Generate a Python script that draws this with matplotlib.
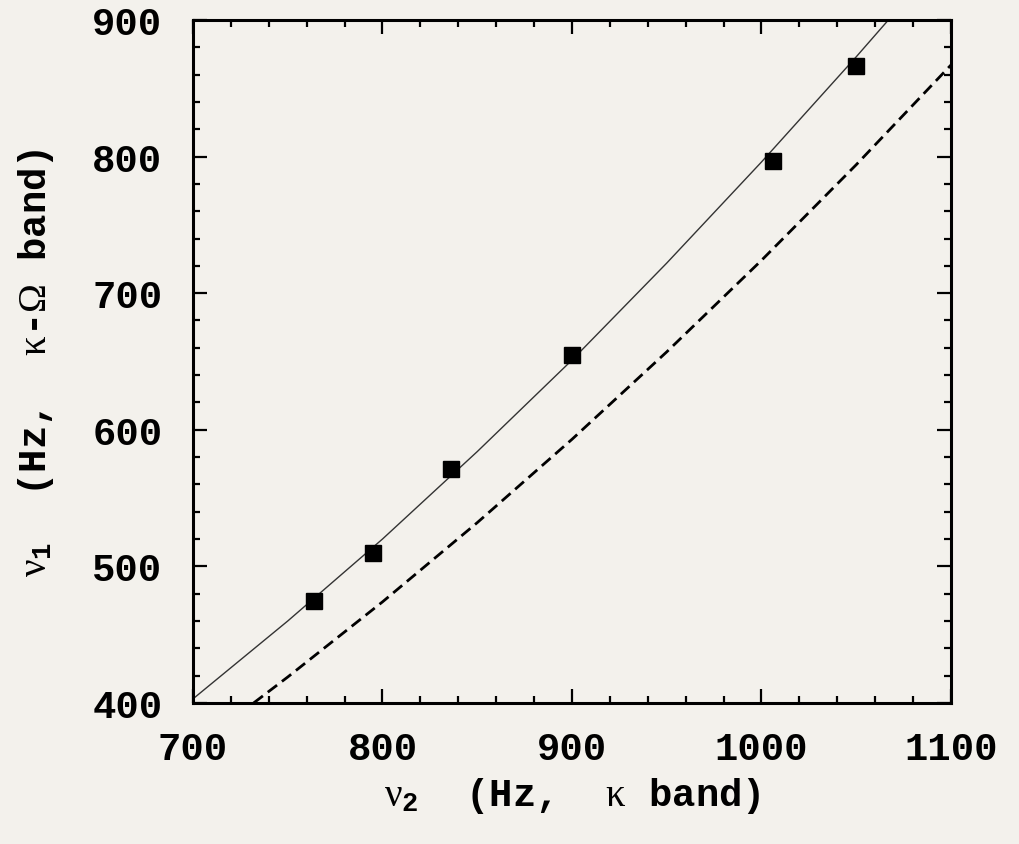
import matplotlib as mpl
mpl.use('Agg')
import numpy as np
import matplotlib.pyplot as plt
from matplotlib.ticker import MultipleLocator

# measured QPO pairs
nu2_obs = [764, 795, 836, 900, 1006, 1050]
nu1_obs = [475, 510, 571, 655, 797, 866]

# model curves
nu2_model = [700, 750, 800, 850, 900, 950, 1000, 1050, 1067]
nu1_model = [403, 460, 520, 584, 651, 722, 796, 873, 900]

nu2_alt = [732, 750, 800, 850, 900, 950, 1000, 1050, 1100]
nu1_alt = [400, 419, 474, 532, 593, 657, 724, 794, 867]

xticks = [700, 800, 900, 1000, 1100]
yticks = [400, 500, 600, 700, 800, 900]

paper = '#f3f1ec'
plt.rcParams['font.family'] = ['Liberation Mono', 'DejaVu Sans']
plt.rcParams['font.weight'] = 'bold'
plt.rcParams['mathtext.fontset'] = 'custom'
plt.rcParams['mathtext.rm'] = 'Liberation Mono:weight=bold'
plt.rcParams['mathtext.it'] = 'Liberation Serif:weight=normal'
plt.rcParams['mathtext.sf'] = 'Liberation Serif:weight=normal'
plt.rcParams['mathtext.bf'] = 'Liberation Mono:weight=bold'

fig = plt.figure(figsize=(10.2, 8.45), dpi=100, facecolor=paper)
ax = fig.add_axes([0.1892, 0.1669, 0.7431, 0.8083], facecolor=paper)

ax.plot(nu2_model, nu1_model, color='#333333', lw=1.0)
ax.plot(nu2_alt, nu1_alt, color='black', lw=2.0, dashes=(4.2, 2.2))
ax.plot(nu2_obs, nu1_obs, 's', color='black', ms=11, mec='black')

ax.set_xlim(700, 1100)
ax.set_ylim(400, 900)
ax.set_xticks(xticks)
ax.set_yticks(yticks)
ax.xaxis.set_minor_locator(MultipleLocator(20))
ax.yaxis.set_minor_locator(MultipleLocator(20))

for s in ax.spines.values():
    s.set_linewidth(2.2)
ax.tick_params(which='both', direction='in', top=True, right=True, width=1.6)
ax.tick_params(which='major', length=10)
ax.tick_params(which='minor', length=5)
ax.tick_params(axis='x', which='major', labelsize=28, pad=20)
ax.tick_params(axis='y', which='major', labelsize=28, pad=22)

ax.set_xlabel(r'$\nu_2$  (Hz,  $\kappa$ band)', fontsize=28, fontweight='bold', labelpad=6)
ax.set_ylabel(r'$\nu_1$  (Hz,  $\kappa$-$\mathsf{\Omega}$ band)', fontsize=28,
              fontweight='bold', labelpad=26)

fig.savefig('out.png', dpi=100, facecolor=paper)
plt.close()
